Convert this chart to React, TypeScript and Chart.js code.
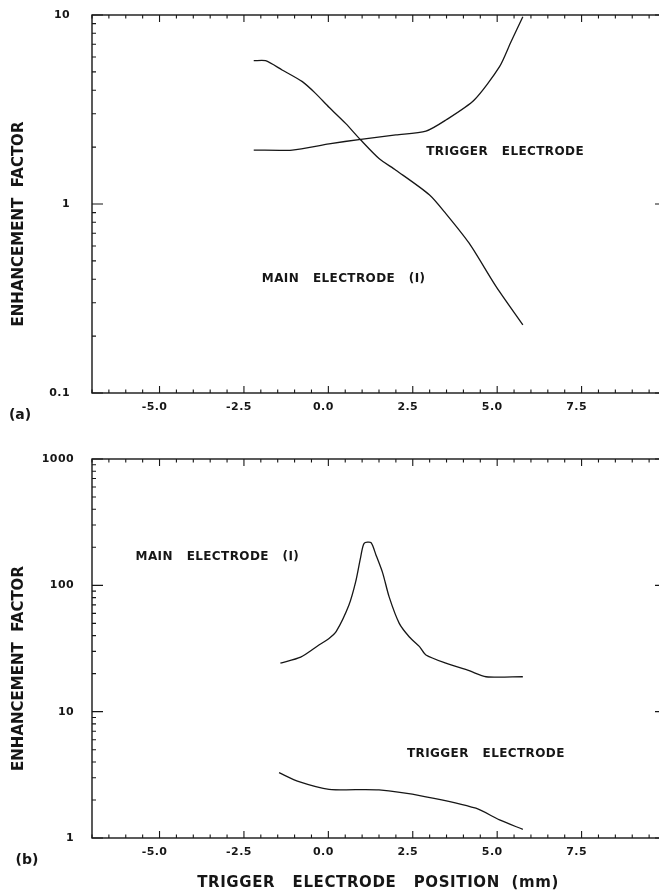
import React, { useEffect, useRef } from "react";
import { Chart, registerables } from "chart.js";

Chart.register(...registerables);

// ---------- data ----------
// Panel (a)
const A_MAIN_X = [-2.21, -1.86, -1.37, -0.77, -0.38, 0.02, 0.51, 0.96, 1.5, 2.0, 2.99, 3.48, 4.17, 4.97, 5.76];
const A_MAIN_Y = [5.73, 5.73, 5.12, 4.44, 3.85, 3.25, 2.67, 2.18, 1.74, 1.51, 1.12, 0.89, 0.62, 0.365, 0.229];
const A_TRIG_X = [-2.21, -1.07, 0.02, 0.96, 2.0, 2.89, 3.48, 4.32, 5.07, 5.41, 5.76];
const A_TRIG_Y = [1.93, 1.93, 2.08, 2.2, 2.32, 2.43, 2.78, 3.55, 5.33, 7.22, 9.8];

// Panel (b)
const B_MAIN_X = [-1.42, -0.82, -0.28, 0.02, 0.23, 0.61, 0.81, 0.96, 1.06, 1.26, 1.41, 1.61, 1.8, 2.1, 2.4, 2.7, 2.89, 3.48, 4.17, 4.67, 5.76];
const B_MAIN_Y = [24.2, 27, 33.7, 38, 43, 70, 107, 169, 215, 218, 174, 125, 81, 50, 39, 32.7, 28.1, 24.2, 21.1, 18.9, 18.9];
const B_TRIG_X = [-1.46, -0.87, 0.02, 1.5, 2.89, 4.37, 5.07, 5.76];
const B_TRIG_Y = [3.29, 2.79, 2.43, 2.4, 2.12, 1.72, 1.39, 1.17];

// axes
const X_MIN = -7;
const X_MAX = 10;
const X_TICK_VALUES = [-5, -2.5, 0, 2.5, 5, 7.5];
const X_TICK_LABELS = ["-5.0", "-2.5", "0.0", "2.5", "5.0", "7.5"];
const A_Y_TICK_VALUES = [0.1, 1, 10];
const A_Y_TICK_LABELS = ["0.1", "1", "10"];
const B_Y_TICK_VALUES = [1, 10, 100, 1000];
const B_Y_TICK_LABELS = ["1", "10", "100", "1000"];

const Y_TITLE = "ENHANCEMENT  FACTOR";
const X_TITLE = "TRIGGER   ELECTRODE   POSITION  (mm)";
const MAIN_LABEL = "MAIN   ELECTRODE   (I)";
const TRIG_LABEL = "TRIGGER   ELECTRODE";

const INK = "#161616";
const FONT = "'DejaVu Sans', sans-serif";

type Note = { text: string; x: number; y: number };

function pts(xs: number[], ys: number[]) {
  return xs.map((x, i) => ({ x, y: ys[i] }));
}

function makePlugin(opts: {
  yTicks: number[];
  yLabels: string[];
  yLabelRight: number;
  showXTitle: boolean;
  panel: string;
  panelPos: [number, number];
  notes: Note[];
}) {
  return {
    id: "plotterFrame",
    afterDraw(chart: any) {
      const ctx: CanvasRenderingContext2D = chart.ctx;
      const { left, right, top, bottom } = chart.chartArea;
      const xs = chart.scales.x;
      const ys = chart.scales.y;
      ctx.save();
      ctx.strokeStyle = INK;
      ctx.fillStyle = INK;
      ctx.lineWidth = 1.4;
      ctx.strokeRect(left, top, right - left, bottom - top);

      // x ticks (inward, bottom and top)
      ctx.lineWidth = 1.1;
      for (let k = Math.ceil(X_MIN / 0.5); k <= Math.floor(X_MAX / 0.5); k++) {
        const v = k * 0.5;
        const px = xs.getPixelForValue(v);
        const major = Math.abs(v / 2.5 - Math.round(v / 2.5)) < 1e-6;
        const len = major ? 7 : 3.5;
        ctx.beginPath();
        ctx.moveTo(px, bottom);
        ctx.lineTo(px, bottom - len);
        ctx.moveTo(px, top);
        ctx.lineTo(px, top + len);
        ctx.stroke();
      }
      // y ticks (log, inward, left and right)
      const dMin = Math.round(Math.log10(ys.min));
      const dMax = Math.round(Math.log10(ys.max));
      for (let d = dMin; d <= dMax; d++) {
        for (let m = 1; m <= 9; m++) {
          const v = m * Math.pow(10, d);
          if (v > ys.max * 1.0001) break;
          const py = ys.getPixelForValue(v);
          const len = m === 1 ? 11 : 4;
          ctx.beginPath();
          ctx.moveTo(left, py);
          ctx.lineTo(left + len, py);
          ctx.moveTo(right, py);
          ctx.lineTo(right - len, py);
          ctx.stroke();
        }
      }

      // tick labels
      (ctx as any).letterSpacing = "0.4px";
      ctx.font = `bold 11px ${FONT}`;
      ctx.textAlign = "center";
      ctx.textBaseline = "middle";
      X_TICK_VALUES.forEach((v, i) => {
        ctx.fillText(X_TICK_LABELS[i], xs.getPixelForValue(v) - 5, bottom + 14);
      });
      ctx.textAlign = "right";
      opts.yTicks.forEach((v, i) => {
        ctx.fillText(opts.yLabels[i], opts.yLabelRight, ys.getPixelForValue(v));
      });

      // annotations
      ctx.font = `bold 12px ${FONT}`;
      (ctx as any).letterSpacing = "0.4px";
      ctx.textAlign = "left";
      opts.notes.forEach((n) => {
        ctx.fillText(n.text, xs.getPixelForValue(n.x), ys.getPixelForValue(n.y));
      });

      // y title
      ctx.font = `bold 15px ${FONT}`;
      (ctx as any).letterSpacing = "0px";
      ctx.save();
      ctx.translate(left - 73, (top + bottom) / 2 + 20);
      ctx.rotate(-Math.PI / 2);
      ctx.textAlign = "center";
      ctx.fillText(Y_TITLE, 0, 0);
      ctx.restore();

      // x title
      if (opts.showXTitle) {
        (ctx as any).letterSpacing = "0.6px";
        ctx.textAlign = "center";
        ctx.fillText(X_TITLE, (left + right) / 2 - 1, bottom + 45);
      }

      // panel label
      ctx.font = `bold 14px ${FONT}`;
      (ctx as any).letterSpacing = "0px";
      ctx.textAlign = "center";
      ctx.fillText(opts.panel, opts.panelPos[0], opts.panelPos[1]);
      ctx.restore();
    },
  };
}

function makeConfig(
  series: { x: number[]; y: number[] }[],
  yMin: number,
  yMax: number,
  padding: { left: number; right: number; top: number; bottom: number },
  plugin: any
): any {
  return {
    type: "line",
    data: {
      datasets: series.map((s) => ({
        data: pts(s.x, s.y),
        borderColor: INK,
        borderWidth: 1.3,
        pointRadius: 0,
        tension: 0.25,
        fill: false,
      })),
    },
    options: {
      animation: false,
      responsive: false,
      devicePixelRatio: 1,
      parsing: true,
      layout: { padding },
      plugins: { legend: { display: false }, tooltip: { enabled: false } },
      scales: {
        x: { type: "linear", min: X_MIN, max: X_MAX, display: false },
        y: { type: "logarithmic", min: yMin, max: yMax, display: false },
      },
    },
    plugins: [plugin],
  };
}

export default function App() {
  const topRef = useRef<HTMLCanvasElement>(null);
  const botRef = useRef<HTMLCanvasElement>(null);

  useEffect(() => {
    const c1 = new Chart(
      topRef.current!,
      makeConfig(
        [
          { x: A_MAIN_X, y: A_MAIN_Y },
          { x: A_TRIG_X, y: A_TRIG_Y },
        ],
        0.1,
        10,
        { left: 92, right: 34, top: 15, bottom: 37 },
        makePlugin({
          yTicks: A_Y_TICK_VALUES,
          yLabels: A_Y_TICK_LABELS,
          yLabelRight: 70,
          showXTitle: false,
          panel: "(a)",
          panelPos: [20, 415],
          notes: [
            { text: TRIG_LABEL, x: 2.9, y: 1.88 },
            { text: MAIN_LABEL, x: -1.97, y: 0.4 },
          ],
        })
      )
    );
    const c2 = new Chart(
      botRef.current!,
      makeConfig(
        [
          { x: B_MAIN_X, y: B_MAIN_Y },
          { x: B_TRIG_X, y: B_TRIG_Y },
        ],
        1,
        1000,
        { left: 92, right: 34, top: 29, bottom: 56 },
        makePlugin({
          yTicks: B_Y_TICK_VALUES,
          yLabels: B_Y_TICK_LABELS,
          yLabelRight: 74,
          showXTitle: true,
          panel: "(b)",
          panelPos: [27, 430],
          notes: [
            { text: MAIN_LABEL, x: -5.71, y: 168 },
            { text: TRIG_LABEL, x: 2.33, y: 4.62 },
          ],
        })
      )
    );
    return () => {
      c1.destroy();
      c2.destroy();
    };
  }, []);

  return (
    <div
      style={{
        position: "fixed",
        left: 0,
        top: 0,
        width: 659,
        height: 894,
        overflow: "hidden",
        background: "#fff",
      }}
    >
      <canvas ref={topRef} width={700} height={430} style={{ position: "absolute", left: 0, top: 0 }} />
      <canvas ref={botRef} width={700} height={464} style={{ position: "absolute", left: 0, top: 430 }} />
    </div>
  );
}
